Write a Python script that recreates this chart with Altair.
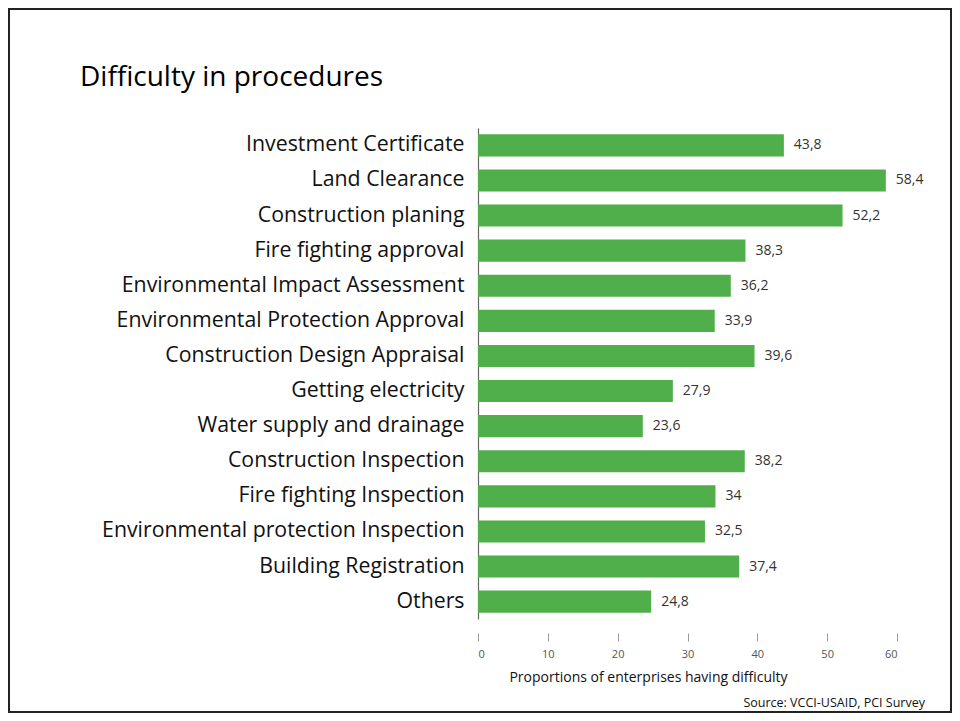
import altair as alt
import pandas as pd

categories = [
    "Investment Certificate",
    "Land Clearance",
    "Construction planing",
    "Fire fighting approval",
    "Environmental Impact Assessment",
    "Environmental Protection Approval",
    "Construction Design Appraisal",
    "Getting electricity",
    "Water supply and drainage",
    "Construction Inspection",
    "Fire fighting Inspection",
    "Environmental protection Inspection",
    "Building Registration",
    "Others",
]
values = [43.8, 58.4, 52.2, 38.3, 36.2, 33.9, 39.6, 27.9, 23.6, 38.2, 34.0, 32.5, 37.4, 24.8]
x_ticks = [0, 10, 20, 30, 40, 50, 60]

labels = [(f"{v:g}").replace(".", ",") for v in values]
df = pd.DataFrame({"procedure": categories, "value": values, "label": labels})

FONT = "Open Sans"
W, H = 419, 491
PAD_L, PAD_T, PAD_R, PAD_B = 470, 120, 55, 94

y_enc = alt.Y(
    "procedure:N",
    sort=categories,
    scale=alt.Scale(paddingInner=0.37, paddingOuter=0.18),
    axis=alt.Axis(
        title=None, ticks=False, domainColor="#666666", domainWidth=1.2,
        labelFontSize=21.3, labelColor="#111111", labelFont=FONT,
        labelPadding=14, labelLimit=460,
    ),
)
x_enc = alt.X(
    "value:Q",
    scale=alt.Scale(domain=[0, 60], nice=False),
    axis=alt.Axis(
        values=x_ticks, grid=False, domain=False, offset=14,
        tickColor="#999999", tickSize=8, tickWidth=1,
        labelFontSize=11, labelColor="#555555", labelFont=FONT, labelPadding=7,
        title="Proportions of enterprises having difficulty",
        titleFontSize=14, titleFontWeight="normal", titleColor="#111111",
        titleFont=FONT, titleX=170, titleY=44, titleAlign="center",
        titleBaseline="middle",
    ),
)

bars = alt.Chart(df).mark_bar(color="#50AE4B").encode(x=x_enc, y=y_enc)
texts = alt.Chart(df).mark_text(
    align="left", baseline="middle", dx=10, fontSize=14, color="#333333", font=FONT
).encode(x="value:Q", y=alt.Y("procedure:N", sort=categories), text="label:N")

deco = pd.DataFrame({"t": ["Difficulty in procedures", "Source: VCCI-USAID, PCI Survey"]})
title = alt.Chart(deco).transform_filter(alt.datum.t == "Difficulty in procedures").mark_text(
    align="left", baseline="alphabetic", fontSize=28, font=FONT, color="#000000"
).encode(x=alt.value(80 - 478), y=alt.value(86 - 128), text="t:N")
source = alt.Chart(deco).transform_filter(alt.datum.t != "Difficulty in procedures").mark_text(
    align="right", baseline="middle", fontSize=12.5, font=FONT, color="#111111"
).encode(x=alt.value(925 - 478), y=alt.value(703 - 128), text="t:N")

frame = alt.Chart(deco).transform_filter(alt.datum.t == "Difficulty in procedures").mark_rect(
    fill=None, stroke="#222222", strokeWidth=2, clip=False
).encode(
    x=alt.value(-PAD_L + 1), x2=alt.value(W + PAD_R - 1),
    y=alt.value(-PAD_T + 1), y2=alt.value(H + PAD_B - 1),
)

chart = alt.layer(bars, texts, title, source, frame).properties(
    width=W, height=H,
    padding={"left": PAD_L, "top": PAD_T, "right": PAD_R, "bottom": PAD_B},
    autosize=alt.AutoSizeParams(type="none"),
    background="white",
).configure_view(strokeWidth=0, stroke=None)

chart.save("out.html", embed_options={"renderer": "svg", "actions": False})
